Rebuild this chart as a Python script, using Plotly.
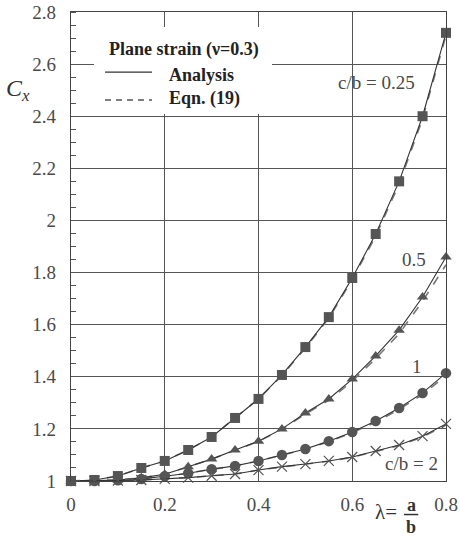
import plotly.graph_objects as go

lam = [0, 0.05, 0.1, 0.15, 0.2, 0.25, 0.3, 0.35, 0.4, 0.45, 0.5, 0.55, 0.6, 0.65, 0.7, 0.75, 0.8]

cx_025 = [1.0, 1.004, 1.019, 1.05, 1.077, 1.119, 1.169, 1.242, 1.315, 1.407, 1.514, 1.629, 1.779, 1.948, 2.15, 2.40, 2.72]
cx_05 = [1.0, 1.001, 1.004, 1.012, 1.026, 1.055, 1.084, 1.119, 1.153, 1.2, 1.261, 1.315, 1.391, 1.48, 1.579, 1.706, 1.86]
cx_1 = [1.0, 1.0, 1.003, 1.008, 1.018, 1.03, 1.045, 1.058, 1.077, 1.1, 1.123, 1.153, 1.188, 1.23, 1.28, 1.338, 1.414]
cx_2 = [1.0, 1.0, 1.002, 1.004, 1.008, 1.013, 1.02, 1.027, 1.042, 1.055, 1.065, 1.077, 1.092, 1.115, 1.138, 1.172, 1.219]

# Eqn. (19) approximation (dashed)
eq_025 = [1.0, 1.004, 1.019, 1.05, 1.077, 1.119, 1.169, 1.242, 1.315, 1.405, 1.51, 1.625, 1.773, 1.94, 2.14, 2.39, 2.71]
eq_05 = [1.0, 1.001, 1.004, 1.012, 1.026, 1.055, 1.084, 1.118, 1.152, 1.198, 1.257, 1.31, 1.383, 1.47, 1.565, 1.69, 1.83]
eq_1 = [1.0, 1.0, 1.003, 1.008, 1.018, 1.03, 1.045, 1.058, 1.077, 1.099, 1.122, 1.151, 1.185, 1.226, 1.275, 1.332, 1.405]
eq_2 = [1.0, 1.0, 1.002, 1.004, 1.008, 1.013, 1.02, 1.027, 1.042, 1.054, 1.064, 1.076, 1.091, 1.113, 1.136, 1.169, 1.215]

x_ticks = [0, 0.2, 0.4, 0.6, 0.8]
y_ticks = [1, 1.2, 1.4, 1.6, 1.8, 2, 2.2, 2.4, 2.6, 2.8]

curve_labels = ["c/b = 0.25", "0.5", "1", "c/b = 2"]
label_x = [0.651, 0.732, 0.738, 0.726]
label_y = [2.531, 1.852, 1.441, 1.069]

legend_title = "Plane strain (ν=0.3)"
legend_names = ["Analysis", "Eqn. (19)"]

SERIF = "Liberation Serif"
LINE = "#333333"
MARK = "#555555"
TXT = "#4a4a4a"

fig = go.Figure()

series = [
    (cx_025, eq_025, "square", 10),
    (cx_05, eq_05, "triangle-up", 10),
    (cx_1, eq_1, "circle", 10.5),
    (cx_2, eq_2, "x-thin", 10),
]

for i, (an, eq, sym, sz) in enumerate(series):
    fig.add_trace(go.Scatter(
        x=lam, y=eq, mode="lines",
        line=dict(color="#777777", width=1.6, dash="dash"),
        showlegend=False, cliponaxis=False,
    ))
    mk = dict(symbol=sym, size=sz, color=MARK)
    if sym == "x-thin":
        mk["line"] = dict(color=MARK, width=1.2)
    fig.add_trace(go.Scatter(
        x=lam, y=an, mode="lines+markers",
        line=dict(color=LINE, width=1.1),
        marker=mk,
        showlegend=False, cliponaxis=False,
    ))


def note(x, y, text, size, color=TXT, xref="paper", yref="paper", xanchor="center"):
    fig.add_annotation(x=x, y=y, xref=xref, yref=yref, text=text, showarrow=False,
                       xanchor=xanchor, yanchor="middle",
                       font=dict(family=SERIF, size=size, color=color))


for t, lx, ly in zip(curve_labels, label_x, label_y):
    note(lx, ly, t, 19, xref="x", yref="y")

# manual legend
fig.add_shape(type="rect", xref="paper", yref="paper", x0=0.0613, x1=0.536, y0=0.7825, y1=0.968,
              fillcolor="white", line=dict(width=0), layer="above")
note(0.301, 0.919, "<b>" + legend_title + "</b>", 18, color="#222222")
fig.add_shape(type="line", xref="paper", yref="paper", x0=0.0907, x1=0.216, y0=0.872, y1=0.872,
              line=dict(color=LINE, width=1.3), layer="above")
note(0.256, 0.8657, "<b>" + legend_names[0] + "</b>", 18, color="#222222", xanchor="left")
fig.add_shape(type="line", xref="paper", yref="paper", x0=0.0907, x1=0.216, y0=0.8124, y1=0.8124,
              line=dict(color="#555555", width=1.3, dash="6px,5px"), layer="above")
note(0.256, 0.8166, "<b>" + legend_names[1] + "</b>", 18, color="#222222", xanchor="left")

# axis titles
note(-0.141, 0.834, "<i>C<sub>x</sub></i>", 24, color="#333333")
note(0.84, -0.066, "λ=", 21, color="#333333")
note(0.907, -0.052, "<b>a</b>", 18, color="#333333")
note(0.907, -0.098, "<b>b</b>", 18, color="#333333")
fig.add_shape(type="line", xref="paper", yref="paper", x0=0.888, x1=0.926, y0=-0.0715, y1=-0.0715,
              line=dict(color="#333333", width=1.5))

axis_common = dict(
    showgrid=True, gridcolor="#555555", gridwidth=1,
    showline=True, linecolor="#444444", linewidth=1.3, mirror=True,
    zeroline=False, automargin=False,
    tickfont=dict(family=SERIF, size=19, color=TXT),
    ticks="",
)

fig.update_xaxes(range=[0, 0.8], tickvals=x_ticks, ticklabelstandoff=6, **axis_common)
fig.update_yaxes(range=[1, 2.8], tickvals=y_ticks, ticklabelstandoff=10,
                 minor=dict(dtick=0.05, ticks="inside", ticklen=5, tickcolor="#555555", showgrid=False),
                 **axis_common)

fig.update_layout(
    width=460, height=536,
    margin=dict(l=71, r=14, t=12, b=55),
    plot_bgcolor="white", paper_bgcolor="white",
    showlegend=False,
)

fig.write_html("out.html")
